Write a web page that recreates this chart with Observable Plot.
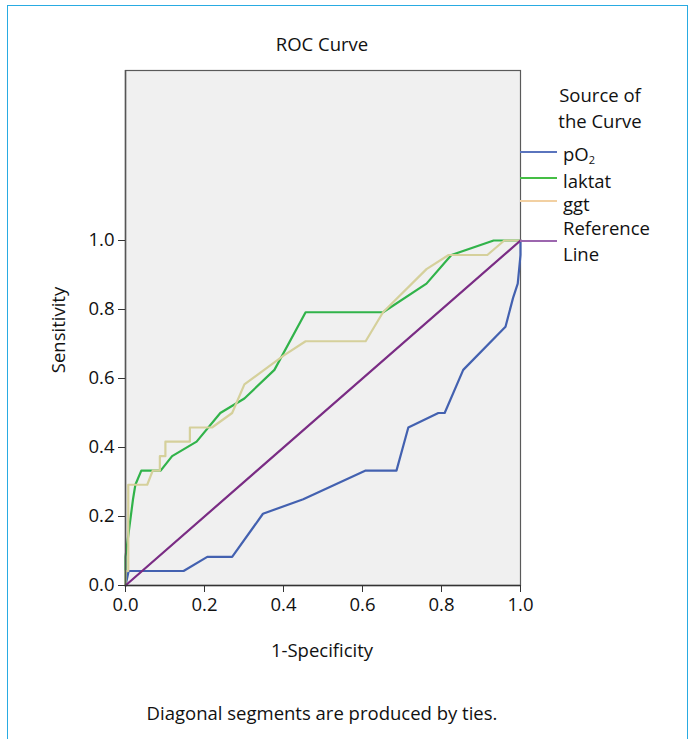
<!DOCTYPE html>
<html>
<head>
<meta charset="utf-8">
<script src="https://cdn.jsdelivr.net/npm/d3@7"></script>
<script src="https://cdn.jsdelivr.net/npm/@observablehq/plot@0.6"></script>
<style>
  html, body { margin: 0; padding: 0; background: #fff; }
  #wrap { position: relative; width: 691px; height: 739px; overflow: hidden; font-family: "Open Sans", "Noto Sans", sans-serif; color: #111; }
  #border { position: absolute; left: 7px; top: 5px; width: 681px; height: 760px; border: 1.5px solid #29abe2; box-sizing: border-box; }
  #chart { position: absolute; left: 0; top: 0; }
  .t { position: absolute; white-space: nowrap; font-size: 18.5px; line-height: 1; }
  .c { transform: translate(-50%, -50%); }
  .lg { position: absolute; left: 520px; width: 37px; height: 1.5px; }
  .lt { position: absolute; left: 563px; font-size: 18.5px; line-height: 1; transform: translateY(-50%); white-space: nowrap; }
  sub { font-size: 11px; vertical-align: baseline; position: relative; top: 3px; line-height: 0; }
  #chart svg text { font-size: 18.5px; }
</style>
</head>
<body>
<div id="wrap">
  <div id="border"></div>
  <div id="chart"></div>
</div>
<script>
// ---- Data ----
const seriesNames = ["pO2", "laktat", "ggt", "Reference Line"];
const seriesColors = ["#4361b0", "#31b34a", "#d5d09b", "#7a2c84"];

const pO2X = [0, 0.008, 0.147, 0.207, 0.27, 0.348, 0.45, 0.608, 0.686, 0.716, 0.792, 0.808, 0.855, 0.962, 0.981, 0.993, 1.0, 1.0];
const pO2Y = [0, 0.042, 0.042, 0.083, 0.083, 0.208, 0.25, 0.333, 0.333, 0.458, 0.5, 0.5, 0.625, 0.75, 0.833, 0.875, 0.958, 1.0];

const laktatX = [0, 0, 0.019, 0.025, 0.04, 0.089, 0.118, 0.18, 0.24, 0.301, 0.377, 0.456, 0.652, 0.762, 0.825, 0.932, 1.0];
const laktatY = [0, 0.083, 0.25, 0.292, 0.333, 0.333, 0.375, 0.417, 0.5, 0.542, 0.625, 0.792, 0.792, 0.875, 0.958, 1.0, 1.0];

const ggtX = [0, 0, 0.007, 0.007, 0.055, 0.069, 0.087, 0.087, 0.101, 0.101, 0.163, 0.163, 0.219, 0.27, 0.301, 0.401, 0.456, 0.608, 0.652, 0.762, 0.818, 0.916, 0.959, 1.0];
const ggtY = [0, 0.042, 0.042, 0.292, 0.292, 0.333, 0.333, 0.375, 0.375, 0.417, 0.417, 0.458, 0.458, 0.5, 0.583, 0.667, 0.708, 0.708, 0.792, 0.917, 0.958, 0.958, 1.0, 1.0];

const refX = [0, 1];
const refY = [0, 1];

const xTicks = [0, 0.2, 0.4, 0.6, 0.8, 1.0];
const yTicks = [0, 0.2, 0.4, 0.6, 0.8, 1.0];

const titleText = "ROC Curve";
const xLabel = "1-Specificity";
const yLabel = "Sensitivity";
const legendTitle = ["Source of", "the Curve"];
const captionText = "Diagonal segments are produced by ties.";

// ---- Build tables ----
const toRows = (xs, ys) => xs.map((x, i) => ({x, y: ys[i]}));
const pO2Rows = toRows(pO2X, pO2Y);
const laktatRows = toRows(laktatX, laktatY);
const ggtRows = toRows(ggtX, ggtY);
const refRows = toRows(refX, refY);

const fontFamily = '"Open Sans", "Noto Sans", sans-serif';

const plot = Plot.plot({
  width: 691,
  height: 739,
  marginLeft: 125,
  marginRight: 171,
  marginTop: 70,
  marginBottom: 154,
  x: {domain: [0, 1], ticks: xTicks, tickFormat: ".1f"},
  y: {domain: [0, 1.4928], ticks: yTicks, tickFormat: ".1f"},
  style: {fontFamily, fontSize: "18.5px", background: "transparent", color: "#111", overflow: "visible"},
  marks: [
    Plot.frame({fill: "#f0f0f0", stroke: "#5a5a5a", strokeWidth: 1.2}),
    Plot.line(pO2Rows, {x: "x", y: "y", stroke: seriesColors[0], strokeWidth: 2.2}),
    Plot.line(laktatRows, {x: "x", y: "y", stroke: seriesColors[1], strokeWidth: 2.2}),
    Plot.line(ggtRows, {x: "x", y: "y", stroke: seriesColors[2], strokeWidth: 2.2}),
    Plot.line(refRows, {x: "x", y: "y", stroke: seriesColors[3], strokeWidth: 2.2}),
    Plot.ruleX([0], {stroke: "#555", strokeWidth: 1.5}),
    Plot.ruleY([0], {stroke: "#333", strokeWidth: 1.5}),
    Plot.axisX({ticks: xTicks, tickFormat: ".1f", tickSize: 7, tickPadding: 5, label: null, stroke: "#333", fill: "#111"}),
    Plot.axisY({ticks: yTicks, tickFormat: ".1f", tickSize: 7, tickPadding: 4, label: null, stroke: "#333", fill: "#111"})
  ]
});
document.getElementById("chart").appendChild(plot);

// ---- Texts ----
const wrap = document.getElementById("wrap");
function addText(txt, x, y, extra) {
  const d = document.createElement("div");
  d.className = "t c";
  d.textContent = txt;
  d.style.left = x + "px";
  d.style.top = y + "px";
  if (extra) Object.assign(d.style, extra);
  wrap.appendChild(d);
  return d;
}
addText(titleText, 322, 44);
addText(xLabel, 322, 650);
addText(yLabel, 58, 330, {transform: "translate(-50%, -50%) rotate(-90deg)"});
addText(captionText, 322, 713);
addText(legendTitle[0], 600, 95);
addText(legendTitle[1], 600, 121);

// ---- Legend ----
const legendItems = [
  {html: "pO<sub>2</sub>", lineY: 151, textY: 154, color: "#5a74bd"},
  {html: "laktat", lineY: 177, textY: 181, color: "#45be45"},
  {html: "ggt", lineY: 200, textY: 204, color: "#f2d0a2"},
  {html: "Reference", lineY: 240, textY: 228, color: "#9c66ae"},
  {html: "Line", lineY: null, textY: 254, color: null}
];
legendItems.forEach(it => {
  if (it.lineY != null) {
    const l = document.createElement("div");
    l.className = "lg";
    l.style.top = it.lineY + "px";
    l.style.backgroundColor = it.color;
    wrap.appendChild(l);
  }
  const t = document.createElement("div");
  t.className = "lt";
  t.innerHTML = it.html;
  t.style.top = it.textY + "px";
  wrap.appendChild(t);
});
</script>
</body>
</html>
